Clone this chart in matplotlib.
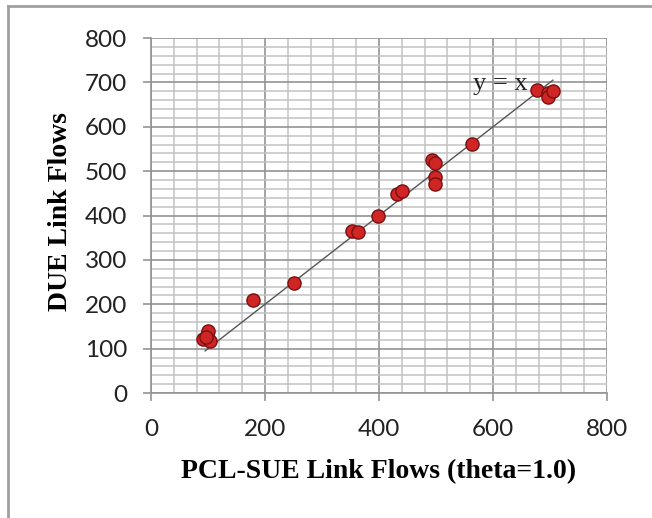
import matplotlib.pyplot as plt
from matplotlib.lines import Line2D
from matplotlib.ticker import MultipleLocator

# link flows: PCL-SUE (theta=1.0) vs DUE
pcl_sue = [92, 98, 100, 103, 96, 179, 251, 353, 364, 399, 432, 440,
           493, 498, 498, 498, 563, 678, 696, 697, 705]
due = [122, 130, 140, 117, 127, 210, 248, 366, 362, 399, 448, 455,
       525, 518, 487, 471, 561, 683, 675, 668, 681]

ref_line = [95, 705]

fig = plt.figure(figsize=(6.52, 5.18), dpi=100)
ax = fig.add_axes([0.2316, 0.2413, 0.6994, 0.6853])

ax.set_xlim(0, 800)
ax.set_ylim(0, 800)
ax.xaxis.set_major_locator(MultipleLocator(200))
ax.xaxis.set_minor_locator(MultipleLocator(40))
ax.yaxis.set_major_locator(MultipleLocator(100))
ax.yaxis.set_minor_locator(MultipleLocator(20))

ax.grid(which='major', color='#939393', linewidth=1.2)
ax.grid(which='minor', color='#c2c2c2', linewidth=1.1)
ax.set_axisbelow(True)

for side in ['top', 'right']:
    ax.spines[side].set_visible(False)
for side in ['left', 'bottom']:
    ax.spines[side].set_color('#939393')
    ax.spines[side].set_linewidth(1.2)

ax.tick_params(which='major', length=6, color='#939393', width=1.2)
ax.tick_params(which='minor', length=0)
ax.tick_params(axis='x', pad=13, labelsize=17.5, labelcolor='#222222')
ax.tick_params(axis='y', pad=11, labelsize=17.5, labelcolor='#222222')
for lbl in ax.get_xticklabels() + ax.get_yticklabels():
    lbl.set_family('Lato')

ax.plot(ref_line, ref_line, color='#555555', linewidth=1.0, zorder=2)
ax.scatter(pcl_sue, due, s=90, color='#d02525', edgecolors='#7a1010',
           linewidths=1.0, zorder=3)
ax.text(612, 697, 'y = x', fontsize=19, family='Liberation Serif',
        ha='center', va='center', color='#222222')

ax.set_xlabel('PCL-SUE Link Flows (theta=1.0)', fontsize=20,
              family='Liberation Serif', fontweight='bold')
ax.set_ylabel('DUE Link Flows', fontsize=20, family='Liberation Serif',
              fontweight='bold')
ax.xaxis.set_label_coords(0.5, -0.185)
ax.yaxis.set_label_coords(-0.171, 0.51)

# chart border, left and top edges
fig.add_artist(Line2D([0.012, 0.012], [0, 0.988], color='#a0a0a0', linewidth=2))
fig.add_artist(Line2D([0.012, 1.0], [0.988, 0.988], color='#a0a0a0', linewidth=2))

fig.savefig('out.png', dpi=100)
